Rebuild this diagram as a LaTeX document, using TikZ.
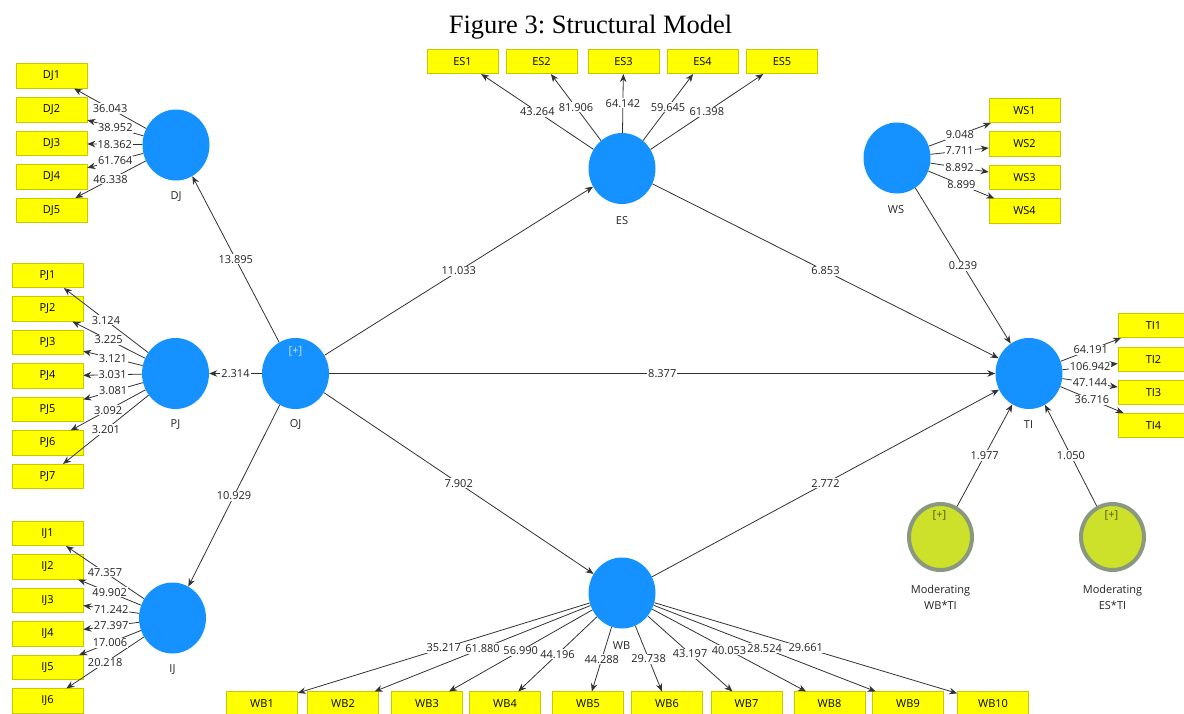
\documentclass[tikz,border=0pt]{standalone}
\usepackage{fontspec}
\setmainfont{Open Sans}
\newfontfamily\titlefont{Liberation Serif}
\usetikzlibrary{shapes.geometric,arrows.meta,calc}
\definecolor{lvblue}{RGB}{21,146,255}
\definecolor{indyel}{RGB}{255,255,0}
\definecolor{indbrd}{RGB}{200,200,0}
\definecolor{modfill}{RGB}{205,224,42}
\definecolor{modbrd}{RGB}{138,152,128}
\definecolor{linegray}{RGB}{50,50,50}
\definecolor{txtgray}{RGB}{35,35,35}
\definecolor{plusw}{RGB}{205,228,255}
\definecolor{plusd}{RGB}{85,85,20}
\frenchspacing
\begin{document}
\begin{tikzpicture}[x=1pt,y=-1pt,
 lv/.style={ellipse, fill=lvblue, minimum width=67pt, minimum height=71pt, inner sep=0pt},
 mv/.style={ellipse, fill=modfill, draw=modbrd, line width=4pt, minimum width=63pt, minimum height=66pt, inner sep=0pt},
 ind/.style={rectangle, fill=indyel, draw=indbrd, line width=0.6pt, minimum width=71pt, minimum height=24.5pt, inner sep=0pt, font=\fontsize{11}{13}\selectfont},
 lname/.style={font=\fontsize{11}{13}\selectfont, text=txtgray, inner sep=0pt, align=center},
 conn/.style={draw=linegray, line width=0.8pt, -{Stealth[length=8pt,width=6.5pt]}},
 val/.style={font=\fontsize{11}{13}\selectfont, text=txtgray, fill=white, inner sep=1pt}
]
\useasboundingbox (0,0) rectangle (1184,713);
\node[font=\titlefont\fontsize{26.5}{30}\selectfont, anchor=base] (title) at (590.5,33) {Figure 3: Structural Model};

% latent variables
\node[lv] (DJ) at (176,145) {};
\node[lv] (PJ) at (175.5,373.5) {};
\node[lv] (OJ) at (295.5,373.5) {};
\node[lv] (IJ) at (172.5,618) {};
\node[lv] (ES) at (622,168.5) {};
\node[lv] (WS) at (897,158) {};
\node[lv] (TI) at (1029,373.5) {};
\node[lv] (WB) at (622,593) {};
\node[mv] (MWB) at (940.5,537) {};
\node[mv] (MES) at (1112.5,537) {};

\node[lname, text=plusw] (OJp) at (295.5,351) {[+]};
\node[lname, text=plusd] (MWBp) at (939.5,515) {[+]};
\node[lname, text=plusd] (MESp) at (1111.5,515) {[+]};

\node[lname] (DJt) at (176,197) {DJ};
\node[lname] (PJt) at (175.5,425) {PJ};
\node[lname] (OJt) at (295.5,425) {OJ};
\node[lname] (IJt) at (172.5,670) {IJ};
\node[lname] (ESt) at (622,221) {ES};
\node[lname] (WSt) at (896,210) {WS};
\node[lname] (TIt) at (1028.5,425) {TI};
\node[lname] (WBt) at (621.5,646) {WB};
\node[lname, font=\fontsize{11}{16}\selectfont] (MWBt) at (940.5,597) {Moderating\\WB*TI};
\node[lname, font=\fontsize{11}{16}\selectfont] (MESt) at (1112.5,597) {Moderating\\ES*TI};

% indicators
\foreach \n/\y in {1/76,2/110,3/143.5,4/177,5/210.5} \node[ind] (DJ\n) at (51.5,\y) {DJ\n};
\foreach \n/\y in {1/275.5,2/309,3/342.5,4/376,5/409.5,6/443,7/476.5} \node[ind] (PJ\n) at (47.5,\y) {PJ\n};
\foreach \n/\y in {1/533.5,2/567,3/600.5,4/634,5/667.5,6/701} \node[ind] (IJ\n) at (47.5,\y) {IJ\n};
\foreach \n/\x in {1/462.5,2/541.5,3/623.5,4/702.5,5/782} \node[ind] (ES\n) at (\x,61.5) {ES\n};
\foreach \n/\y in {1/110.5,2/144,3/177.5,4/211} \node[ind] (WS\n) at (1024.5,\y) {WS\n};
\foreach \n/\y in {1/325.5,2/359.5,3/392.5,4/425.5} \node[ind] (TI\n) at (1153.5,\y) {TI\n};
\foreach \n/\x in {1/262,2/343,3/427,4/505,5/588,6/667,7/746.5,8/829.5,9/908,10/993} \node[ind] (WB\n) at (\x,704) {WB\n};

\def\conlist{DJ/DJ1/36.043, DJ/DJ2/38.952, DJ/DJ3/18.362, DJ/DJ4/61.764, DJ/DJ5/46.338,
 PJ/PJ1/3.124, PJ/PJ2/3.225, PJ/PJ3/3.121, PJ/PJ4/3.031, PJ/PJ5/3.081, PJ/PJ6/3.092, PJ/PJ7/3.201,
 IJ/IJ1/47.357, IJ/IJ2/49.902, IJ/IJ3/71.242, IJ/IJ4/27.397, IJ/IJ5/17.006, IJ/IJ6/20.218,
 ES/ES1/43.264, ES/ES2/81.906, ES/ES3/64.142, ES/ES4/59.645, ES/ES5/61.398,
 WS/WS1/9.048, WS/WS2/7.711, WS/WS3/8.892, WS/WS4/8.899,
 TI/TI1/64.191, TI/TI2/106.942, TI/TI3/47.144, TI/TI4/36.716,
 WB/WB1/35.217, WB/WB2/61.880, WB/WB3/56.990, WB/WB4/44.196, WB/WB5/44.288,
 WB/WB6/29.738, WB/WB7/43.197, WB/WB8/40.053, WB/WB9/28.524, WB/WB10/29.661,
 OJ/DJ/13.895, OJ/PJ/2.314, OJ/IJ/10.929, OJ/ES/11.033, OJ/TI/8.377, OJ/WB/7.902,
 ES/TI/6.853, WS/TI/0.239, WB/TI/2.772, MWB/TI/1.977, MES/TI/1.050}

\foreach \a/\b/\v in \conlist { \draw[conn] (\a) -- (\b); }
\foreach \a/\b/\v in \conlist { \path (\a) -- node[val] {\v} (\b); }
\end{tikzpicture}
\end{document}
